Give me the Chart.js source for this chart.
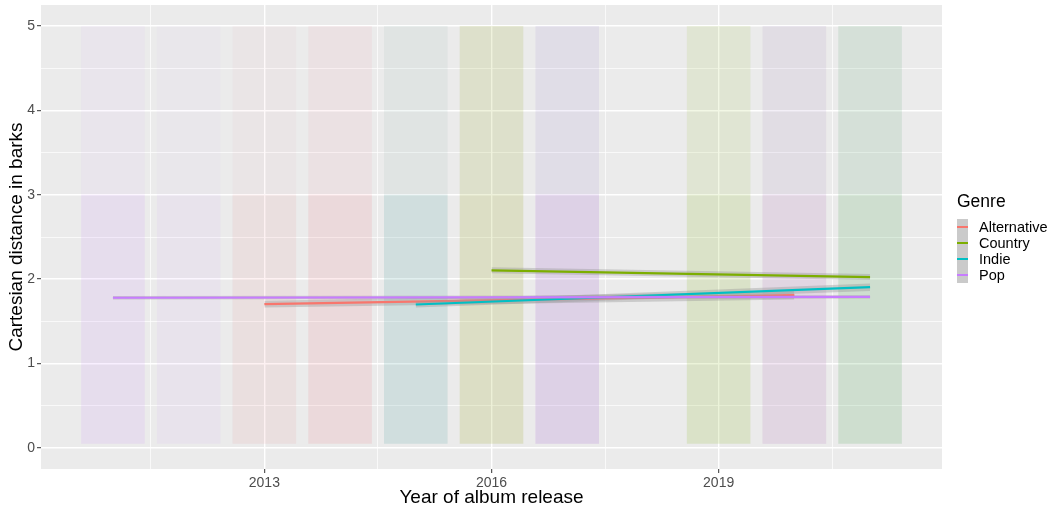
<!DOCTYPE html>
<html>
<head>
<meta charset="utf-8">
<script src="https://cdn.jsdelivr.net/npm/chart.js@4.4.1/dist/chart.umd.min.js"></script>
<style>
  body { margin: 0; background: #ffffff; font-family: "Liberation Sans", Arial, sans-serif; }
  #wrap { position: relative; width: 1052px; height: 510px; }
  #legend div { position: absolute; white-space: nowrap; color: #000000; }
  .ltitle { left: 957px; top: 193px; font-size: 17.5px; line-height: 1; }
  .lkey { left: 957px; top: 219px; width: 11px; height: 64px; background: #cacaca; }
  .lline { left: 957px; width: 11px; height: 2px; }
  .ltext { left: 979px; font-size: 14.5px; line-height: 1; }
</style>
</head>
<body>
<div id="wrap">
  <canvas id="myChart" width="1052" height="510"></canvas>
  <div id="legend"></div>
</div>
<script>
const years = [2011, 2012, 2013, 2014, 2015, 2016, 2017, 2018, 2019, 2020, 2021];
const genres = ["Alternative", "Country", "Indie", "Pop"];
const genreColors = ["#F8766D", "#7CAE00", "#00BFC4", "#C77CFF"];

// how dense each year's jittered cloud looks, lower part (0-3) and upper part (3-5)
const cloudBands = [[0.05, 3.0], [3.0, 5.0]];
const alternativeLow  = [0,    0,    0.09, 0.12, 0.06, 0.03, 0.04, 0, 0,    0.07, 0];
const alternativeHigh = [0,    0,    0.03, 0.06, 0.04, 0.02, 0.02, 0, 0,    0.04, 0];
const countryLow      = [0,    0,    0,    0,    0,    0.14, 0,    0, 0.15, 0,    0.10];
const countryHigh     = [0,    0,    0,    0,    0,    0.12, 0,    0, 0.10, 0,    0.07];
const indieLow        = [0,    0,    0,    0,    0.12, 0,    0.03, 0, 0,    0.03, 0.08];
const indieHigh       = [0,    0,    0,    0,    0.05, 0,    0.03, 0, 0,    0.03, 0.06];
const popLow          = [0.12, 0.07, 0.01, 0.02, 0,    0,    0.18, 0, 0,    0.11, 0.02];
const popHigh         = [0.05, 0.03, 0.01, 0.02, 0,    0,    0.08, 0, 0,    0.07, 0.02];

// lm fits: first / last year, fitted value and standard error band
const alternativeFitYears = [2013, 2020];
const alternativeFit = [1.705, 1.81];
const alternativeSeLow = [1.665, 1.76];
const alternativeSeHigh = [1.745, 1.86];

const countryFitYears = [2016, 2021];
const countryFit = [2.105, 2.025];
const countrySeLow = [2.07, 1.99];
const countrySeHigh = [2.14, 2.06];

const indieFitYears = [2015, 2021];
const indieFit = [1.70, 1.905];
const indieSeLow = [1.665, 1.86];
const indieSeHigh = [1.735, 1.95];

const popFitYears = [2011, 2021];
const popFit = [1.78, 1.79];
const popSeLow = [1.76, 1.77];
const popSeHigh = [1.80, 1.81];

const yTicks = [0, 1, 2, 3, 4, 5];
const yMinor = [0.5, 1.5, 2.5, 3.5, 4.5];
const xTicks = [2013, 2016, 2019];
const xMinor = [2011.5, 2014.5, 2017.5, 2020.5];

const fontFamily = '"Liberation Sans", Arial, sans-serif';

const hexToRgba = (hex, a) => {
    const n = parseInt(hex.slice(1), 16);
    return "rgba(" + (n >> 16) + "," + ((n >> 8) & 255) + "," + (n & 255) + "," + a + ")";
};

const clouds = [
    [alternativeLow, alternativeHigh],
    [countryLow, countryHigh],
    [indieLow, indieHigh],
    [popLow, popHigh]
];

const fits = [
    [alternativeFitYears, alternativeFit, alternativeSeLow, alternativeSeHigh],
    [countryFitYears, countryFit, countrySeLow, countrySeHigh],
    [indieFitYears, indieFit, indieSeLow, indieSeHigh],
    [popFitYears, popFit, popSeLow, popSeHigh]
];

const datasets = [];

clouds.forEach((pair, gi) => {
    pair.forEach((dens, bi) => {
        datasets.push({
            type: "bar",
            data: years.map(yr => ({ x: yr, y: cloudBands[bi] })),
            backgroundColor: dens.map(d => hexToRgba(genreColors[gi], d)),
            borderWidth: 0,
            grouped: false,
            barPercentage: 0.84,
            categoryPercentage: 1,
            order: 100
        });
    });
});

fits.forEach((f, gi) => {
    const fx = f[0];
    const pts = arr => fx.map((x, i) => ({ x: x, y: arr[i] }));
    const base = 12 - gi * 3;
    const lowIndex = datasets.length;
    datasets.push({
        type: "line", data: pts(f[2]), borderColor: "transparent", borderWidth: 0,
        pointRadius: 0, fill: false, order: base
    });
    datasets.push({
        type: "line", data: pts(f[3]), borderColor: "transparent", borderWidth: 0,
        pointRadius: 0, fill: lowIndex, backgroundColor: "rgba(153,153,153,0.4)", order: base
    });
    datasets.push({
        type: "line", data: pts(f[1]), borderColor: genreColors[gi], borderWidth: 2.2,
        pointRadius: 0, fill: false, order: base - 1
    });
});

const panelBackground = {
    id: "panelBackground",
    beforeDraw: chart => {
        const ctx = chart.ctx;
        const a = chart.chartArea;
        ctx.save();
        ctx.fillStyle = "#ffffff";
        ctx.fillRect(0, 0, chart.width, chart.height);
        ctx.fillStyle = "#ebebeb";
        ctx.fillRect(a.left, a.top, a.right - a.left, a.bottom - a.top);
        ctx.restore();
    }
};

const noPadding = s => {
    s.paddingTop = 0;
    s.paddingBottom = 0;
    s.paddingLeft = 0;
    s.paddingRight = 0;
};

const ctx = document.getElementById("myChart").getContext("2d");

const config = {
    type: "bar",
    data: { datasets: datasets },
    plugins: [panelBackground],
    options: {
        responsive: false,
        animation: false,
        events: [],
        layout: { padding: { left: 0, top: 5, right: 110, bottom: 0 } },
        plugins: { legend: { display: false }, tooltip: { enabled: false } },
        scales: {
            x: {
                type: "linear",
                min: 2010.05,
                max: 2021.95,
                offset: false,
                afterBuildTicks: s => {
                    s.ticks = xMinor.concat(xTicks).sort((a, b) => a - b).map(v => ({ value: v }));
                },
                afterFit: s => { noPadding(s); s.height = 41; },
                ticks: {
                    autoSkip: false,
                    maxRotation: 0,
                    padding: 2,
                    color: "#4d4d4d",
                    font: { family: fontFamily, size: 14 },
                    callback: v => xTicks.includes(v) ? String(v) : ""
                },
                grid: {
                    offset: false,
                    color: "#ffffff",
                    lineWidth: c => (c.tick && xTicks.includes(c.tick.value)) ? 1.4 : 0.7,
                    tickLength: 4,
                    tickWidth: 1,
                    tickColor: c => (c.tick && xTicks.includes(c.tick.value)) ? "#333333" : "rgba(0,0,0,0)"
                },
                border: { display: false },
                title: {
                    display: true,
                    text: "Year of album release",
                    color: "#000000",
                    font: { family: fontFamily, size: 19 },
                    padding: { top: 0, bottom: 1 }
                }
            },
            y: {
                type: "linear",
                min: -0.25,
                max: 5.25,
                afterBuildTicks: s => {
                    s.ticks = yMinor.concat(yTicks).sort((a, b) => a - b).map(v => ({ value: v }));
                },
                afterFit: s => { noPadding(s); s.width = 41; },
                ticks: {
                    autoSkip: false,
                    padding: 2,
                    color: "#4d4d4d",
                    font: { family: fontFamily, size: 14 },
                    callback: v => yTicks.includes(v) ? String(v) : ""
                },
                grid: {
                    color: "#ffffff",
                    lineWidth: c => (c.tick && yTicks.includes(c.tick.value)) ? 1.4 : 0.7,
                    tickLength: 4,
                    tickWidth: 1,
                    tickColor: c => (c.tick && yTicks.includes(c.tick.value)) ? "#333333" : "rgba(0,0,0,0)"
                },
                border: { display: false },
                title: {
                    display: true,
                    text: "Cartesian distance in barks",
                    color: "#000000",
                    font: { family: fontFamily, size: 19 },
                    padding: { top: 5, bottom: 0 }
                }
            }
        }
    }
};

const myChart = new Chart(ctx, config);

const legend = document.getElementById("legend");
let html = '<div class="ltitle">Genre</div><div class="lkey"></div>';
genres.forEach((g, i) => {
    const cy = 227 + i * 16;
    html += '<div class="lline" style="top:' + (cy - 1) + 'px;background:' + genreColors[i] + '"></div>';
    html += '<div class="ltext" style="top:' + (cy - 7) + 'px">' + g + '</div>';
});
legend.innerHTML = html;
</script>
</body>
</html>
